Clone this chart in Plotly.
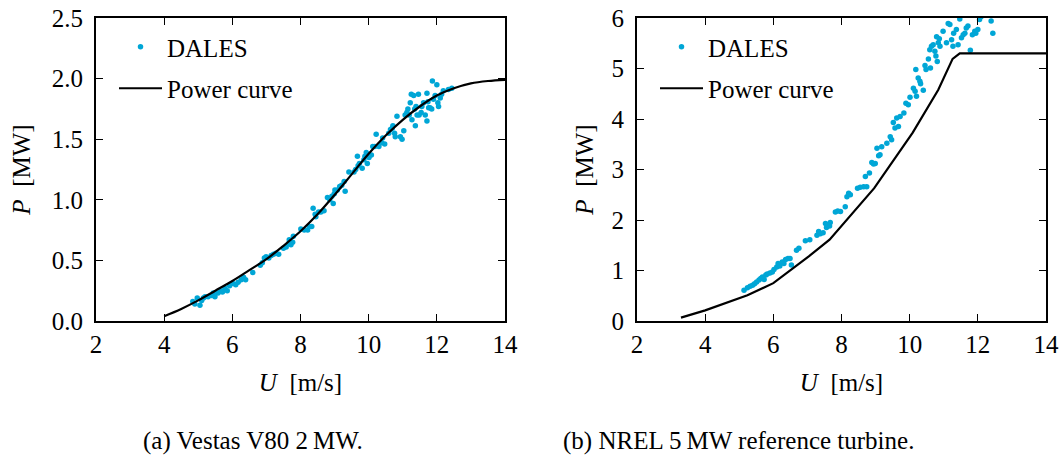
import plotly.graph_objects as go

# ---------------- data ----------------
x_ticks = [2, 4, 6, 8, 10, 12, 14]

# (a) Vestas V80 2 MW
v80_curve_u = [4.0, 4.5, 5.0, 5.5, 6.0, 6.5, 7.0, 7.5, 8.0, 8.5, 9.0, 9.5,
               10.0, 10.5, 11.0, 11.5, 12.0, 12.5, 13.0, 13.5, 14.0]
v80_curve_p = [0.04, 0.10, 0.17, 0.25, 0.33, 0.42, 0.51, 0.62, 0.74, 0.88, 1.04, 1.21,
               1.38, 1.53, 1.66, 1.77, 1.86, 1.92, 1.96, 1.98, 1.99]
v80_dales_u = [4.84, 4.90, 4.97, 5.05, 5.10, 5.15, 5.20, 5.29, 5.39, 5.44, 5.49, 5.58,
               5.65, 5.71, 5.78, 5.85, 5.92, 6.02, 6.10, 6.17, 6.26, 6.33, 6.39, 6.60,
               6.82, 6.88, 6.94, 6.99, 7.07, 7.14, 7.21, 7.28, 7.36, 7.50, 7.58, 7.65,
               7.67, 7.72, 7.77, 7.79, 8.01, 8.11, 8.21, 8.26, 8.33, 8.37, 8.43, 8.45,
               8.53, 8.60, 8.69, 8.79, 8.86, 8.92, 8.96, 8.99, 9.01, 9.08, 9.15, 9.21,
               9.28, 9.31, 9.42, 9.57, 9.62, 9.67, 9.69, 9.73, 9.81, 9.86, 9.89, 9.93,
               9.96, 10.01, 10.08, 10.12, 10.18, 10.22, 10.30, 10.38, 10.41, 10.47, 10.59,
               10.64, 10.69, 10.71, 10.76, 10.78, 10.83, 10.93, 10.98, 11.03, 11.07, 11.12,
               11.15, 11.19, 11.22, 11.25, 11.27, 11.32, 11.35, 11.37, 11.39, 11.42, 11.46,
               11.48, 11.54, 11.56, 11.61, 11.66, 11.71, 11.71, 11.74, 11.76, 11.80, 11.85,
               11.87, 11.90, 11.95, 12.00, 12.03, 12.05, 12.10, 12.14, 12.19, 12.34, 12.44]
v80_dales_p = [0.16, 0.14, 0.19, 0.13, 0.17, 0.19, 0.20, 0.20, 0.21, 0.23, 0.20, 0.23,
               0.25, 0.24, 0.27, 0.25, 0.29, 0.31, 0.30, 0.32, 0.34, 0.36, 0.34, 0.40,
               0.46, 0.48, 0.52, 0.53, 0.52, 0.54, 0.55, 0.56, 0.55, 0.60, 0.61, 0.64,
               0.67, 0.63, 0.65, 0.70, 0.76, 0.75, 0.75, 0.78, 0.78, 0.93, 0.88, 0.86,
               0.90, 0.90, 0.91, 1.02, 1.00, 1.03, 0.97, 1.05, 1.08, 1.08, 1.11, 1.12,
               1.15, 1.07, 1.23, 1.23, 1.25, 1.36, 1.28, 1.30, 1.26, 1.33, 1.36, 1.39,
               1.30, 1.35, 1.37, 1.44, 1.44, 1.54, 1.44, 1.47, 1.51, 1.46, 1.55,
               1.58, 1.59, 1.61, 1.55, 1.52, 1.69, 1.52, 1.50, 1.57, 1.70, 1.72,
               1.75, 1.70, 1.80, 1.87, 1.66, 1.86, 1.75, 1.61, 1.77, 1.70, 1.87,
               1.70, 1.72, 1.77, 1.80, 1.70, 1.88, 1.65, 1.81, 1.76, 1.76, 1.75,
               1.98, 1.83, 1.86, 1.95, 1.80, 1.77, 1.84, 1.87, 1.90, 1.91, 1.92]
v80_y_ticks = [0.0, 0.5, 1.0, 1.5, 2.0, 2.5]
v80_y_labels = ["0.0", "0.5", "1.0", "1.5", "2.0", "2.5"]

# (b) NREL 5 MW reference turbine
nrel_curve_u = [3.29, 4.00, 5.24, 6.00, 7.04, 7.65, 8.96, 10.09, 10.84, 11.26, 11.47, 14.0]
nrel_curve_p = [0.066, 0.21, 0.51, 0.75, 1.28, 1.61, 2.63, 3.73, 4.58, 5.19, 5.30, 5.30]
nrel_dales_u = [5.14, 5.24, 5.32, 5.39, 5.45, 5.51, 5.58, 5.63, 5.68, 5.73, 5.78, 5.82,
                5.90, 5.97, 6.02, 6.10, 6.14, 6.19, 6.26, 6.31, 6.36, 6.43, 6.49, 6.53,
                6.68, 6.75, 6.94, 7.07, 7.28, 7.33, 7.38, 7.46, 7.53, 7.56, 7.60, 7.65,
                7.67, 7.82, 7.89, 7.97, 8.11, 8.16, 8.21, 8.26, 8.47, 8.55, 8.65, 8.70,
                8.74, 8.82, 8.89, 8.94, 8.99, 9.04, 9.09, 9.13, 9.18, 9.33, 9.43, 9.47,
                9.52, 9.57, 9.62, 9.67, 9.72, 9.83, 9.89, 9.96, 10.01, 10.11, 10.16, 10.18,
                10.20, 10.25, 10.30, 10.32, 10.40, 10.45, 10.48, 10.55, 10.59, 10.61, 10.64,
                10.69, 10.74, 10.77, 10.79, 10.81, 10.84, 10.87, 10.89, 10.98, 11.08, 11.13,
                11.18, 11.23, 11.27, 11.29, 11.37, 11.42, 11.47, 11.52, 11.57, 11.62, 11.66,
                11.71, 11.78, 11.84, 11.91, 11.94, 12.00, 12.05, 12.10, 12.39, 12.44]
nrel_dales_p = [0.61, 0.66, 0.69, 0.71, 0.74, 0.77, 0.81, 0.84, 0.87, 0.82, 0.91, 0.93,
                0.95, 0.97, 1.02, 1.07, 1.14, 1.09, 1.17, 1.14, 1.22, 1.24, 1.24, 1.11,
                1.40, 1.44, 1.59, 1.61, 1.70, 1.77, 1.73, 1.75, 1.93, 1.85, 1.90, 1.88,
                1.95, 2.16, 2.18, 2.17, 2.26, 2.46, 2.53, 2.50, 2.63, 2.65, 2.66, 2.86,
                2.66, 2.93, 3.14, 3.11, 3.12, 3.42, 3.27, 3.29, 3.45, 3.52, 3.65, 3.59,
                3.93, 3.82, 4.02, 3.85, 4.05, 4.12, 4.31, 4.28, 4.43, 4.61, 4.55, 4.98,
                4.45, 4.81, 4.75, 4.70, 4.57, 5.06, 4.98, 5.19, 5.37, 5.01, 5.44,
                5.47, 5.34, 5.25, 5.63, 5.14, 5.51, 5.59, 5.44, 5.74, 5.51, 5.89,
                5.87, 5.57, 5.44, 5.70, 5.77, 5.47, 5.98, 5.61, 5.67, 5.70, 5.80,
                5.84, 5.36, 5.67, 5.74, 5.70, 5.77, 5.97, 6.03, 5.94, 5.70]
nrel_y_ticks = [0, 1, 2, 3, 4, 5, 6]

captions = ["(a) Vestas V80 2\u2009MW.", "(b) NREL 5\u2009MW reference turbine."]
x_title = "<i>U</i>  [m/s]"
y_title = "<i>P</i>  [MW]"

# ---------------- styling ----------------
FONT = "'Liberation Serif', 'DejaVu Serif', serif"
FS = 25
DALES_COLOR = "#00A6D6"
W, H = 1063, 461

fig = go.Figure()

fig.add_trace(go.Scatter(x=v80_dales_u, y=v80_dales_p, mode="markers", name="DALES",
                         marker=dict(color=DALES_COLOR, size=5.5, line=dict(width=0)),
                         xaxis="x", yaxis="y", legend="legend", legendgroup="a1"))
fig.add_trace(go.Scatter(x=v80_curve_u, y=v80_curve_p, mode="lines", name="Power curve",
                         line=dict(color="black", width=2.2, shape="spline"),
                         xaxis="x", yaxis="y", legend="legend", legendgroup="a2"))
fig.add_trace(go.Scatter(x=nrel_dales_u, y=nrel_dales_p, mode="markers", name="DALES",
                         marker=dict(color=DALES_COLOR, size=5.5, line=dict(width=0)),
                         xaxis="x2", yaxis="y2", legend="legend2", legendgroup="b1"))
fig.add_trace(go.Scatter(x=nrel_curve_u, y=nrel_curve_p, mode="lines", name="Power curve",
                         line=dict(color="black", width=2.2),
                         xaxis="x2", yaxis="y2", legend="legend2", legendgroup="b2"))

def ax(**kw):
    d = dict(showline=True, linecolor="black", linewidth=2, mirror="ticks",
             ticks="inside", ticklen=7, tickwidth=1.3, tickcolor="black",
             showgrid=False, zeroline=False, automargin=False,
             tickfont=dict(family=FONT, size=FS, color="black"),
             title_font=dict(family=FONT, size=FS, color="black"))
    d.update(kw)
    return d

x1 = [96 / W, 505 / W]
x2 = [637 / W, 1046 / W]
yd = [1 - 321 / H, 1 - 18 / H]

fig.update_layout(
    width=W, height=H,
    margin=dict(l=0, r=0, t=0, b=0, autoexpand=False),
    paper_bgcolor="white", plot_bgcolor="white",
    font=dict(family=FONT, size=FS, color="black"),
    showlegend=True,
    xaxis=ax(domain=x1, range=[2, 14], tickvals=x_ticks, anchor="y",
             title=dict(text=x_title, standoff=16), ticklabelstandoff=0),
    yaxis=ax(domain=yd, range=[0, 2.5], tickvals=v80_y_ticks, ticktext=v80_y_labels,
             anchor="x", title=dict(text=y_title, standoff=14), ticklabelstandoff=6),
    xaxis2=ax(domain=x2, range=[2, 14], tickvals=x_ticks, anchor="y2",
              title=dict(text=x_title, standoff=16), ticklabelstandoff=0),
    yaxis2=ax(domain=yd, range=[0, 6], tickvals=nrel_y_ticks, anchor="x2",
              title=dict(text=y_title, standoff=11), ticklabelstandoff=6),
    legend=dict(x=114 / W, y=1 - 24 / H, xanchor="left", yanchor="top",
                bgcolor="rgba(0,0,0,0)", borderwidth=0, tracegroupgap=6,
                font=dict(family=FONT, size=FS, color="black"), itemwidth=43),
    legend2=dict(x=655 / W, y=1 - 24 / H, xanchor="left", yanchor="top",
                 bgcolor="rgba(0,0,0,0)", borderwidth=0, tracegroupgap=6,
                 font=dict(family=FONT, size=FS, color="black"), itemwidth=43),
    annotations=[
        dict(text=captions[0], x=253 / W, y=1 - 441 / H, xref="paper", yref="paper",
             showarrow=False, xanchor="center", yanchor="middle",
             font=dict(family=FONT, size=FS, color="black")),
        dict(text=captions[1], x=738 / W, y=1 - 441 / H, xref="paper", yref="paper",
             showarrow=False, xanchor="center", yanchor="middle",
             font=dict(family=FONT, size=FS, color="black")),
    ],
)

fig.write_html("out.html", config={"displayModeBar": False},
               post_script="document.body.style.margin='0';document.body.style.overflow='hidden';")
